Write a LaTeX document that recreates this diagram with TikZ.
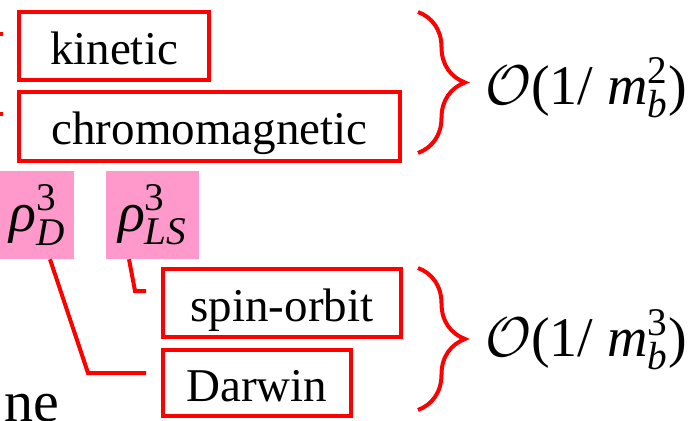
\RequirePackage{fix-cm}
\documentclass[tikz,border=0pt]{standalone}
\usepackage{amsmath}
\usepackage{fontspec}
\setmainfont{Liberation Serif}
\usetikzlibrary{decorations.pathreplacing}
\definecolor{boxred}{RGB}{255,0,0}
\definecolor{rhopink}{RGB}{255,153,204}
\newcommand{\ti}[1]{\text{\itshape #1}}

\begin{document}
\begin{tikzpicture}[x=1pt, y=-1pt,
    box/.style={draw=boxred, line width=4pt, inner sep=0pt,
        font=\fontsize{47}{56}\selectfont, text height=36pt, text depth=0pt},
    rhobox/.style={fill=rhopink, inner sep=0pt, font=\fontsize{56}{60}\selectfont},
    link/.style={draw=boxred, line width=4pt},
    brc/.style={draw=boxred, line width=4pt, decorate,
        decoration={brace, amplitude=47pt}},
    order/.style={anchor=west, inner sep=0pt, font=\fontsize{56}{60}\selectfont}]
    \useasboundingbox (0,0) rectangle (698,420);
    % operator boxes
    \node[box, minimum width=190pt, minimum height=68pt] (kin) at (114,46) {kinetic};
    \node[box, minimum width=381pt, minimum height=69pt] (chromo) at (209.5,126.5) {chromomagnetic};
    \node[box, minimum width=238pt, minimum height=68pt] (spin) at (282,303) {spin-orbit};
    \node[box, minimum width=188pt, minimum height=66pt] (darwin) at (257,383) {Darwin};
    % parameters
    \node[rhobox, minimum width=74pt, minimum height=88pt] (rhoD) at (37,215) {$\ti{ρ}_{\ti{D}}^{\text{3}}$};
    \node[rhobox, minimum width=93pt, minimum height=88pt] (rhoLS) at (152.5,215) {$\ti{ρ}_{\ti{LS}}^{\text{3}}$};
    % text running off the left edge
    \node[anchor=base east, inner sep=0pt, font=\fontsize{58}{60}\selectfont] (tail) at (59,421) {ne};
    % connectors
    \coordinate (kinsrc) at (-20,34);
    \coordinate (chromosrc) at (-20,114);
    \draw[link] (kinsrc) -- ([shift={(-14,-12)}]kin.west);
    \draw[link] (chromosrc) -- ([shift={(-14,-12.5)}]chromo.west);
    \draw[link] ([xshift=13pt]rhoD.south) -- (88,373) -- ([shift={(-15,-10)}]darwin.west);
    \draw[link] ([xshift=-23.5pt]rhoLS.south) -- (135,291) -- ([shift={(-15,-12)}]spin.west);
    % braces
    \coordinate (brtwoa) at (418,12);
    \coordinate (brtwob) at (418,153);
    \coordinate (brthreea) at (418,268);
    \coordinate (brthreeb) at (418,410);
    \draw[brc] (brtwoa) -- (brtwob);
    \draw[brc] (brthreea) -- (brthreeb);
    \node[order] (mtwo) at (485,88) {$\mathcal{O}\text{(1/ }\ti{m}_{\ti{b}}^{\text{2}}\text{)}$};
    \node[order] (mthree) at (485,340) {$\mathcal{O}\text{(1/ }\ti{m}_{\ti{b}}^{\text{3}}\text{)}$};
\end{tikzpicture}
\end{document}
